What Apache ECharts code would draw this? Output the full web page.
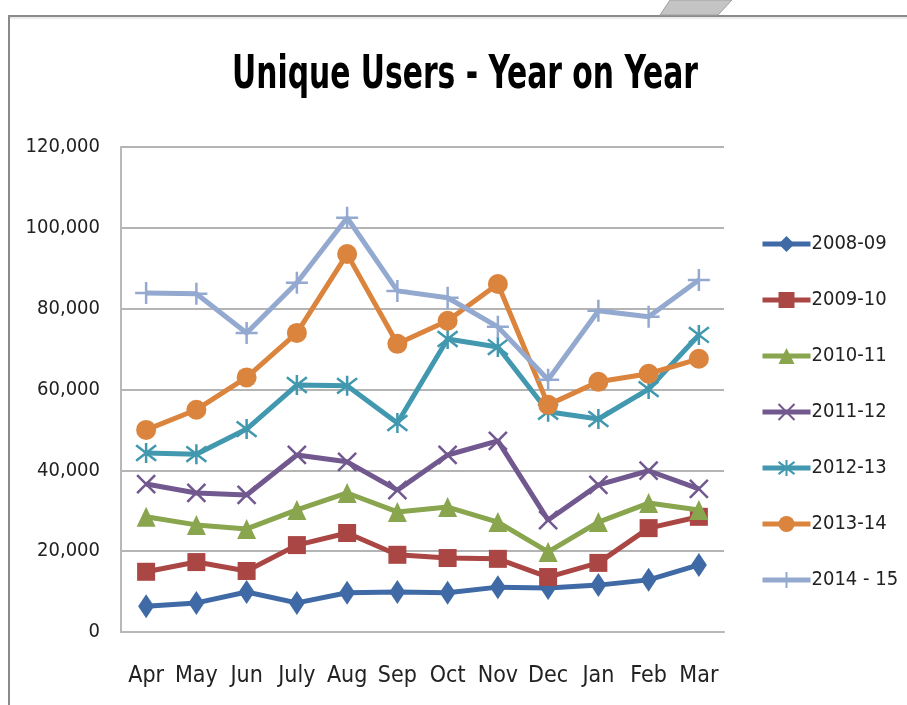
<!DOCTYPE html>
<html>
<head>
<meta charset="utf-8">
<script src="https://cdn.jsdelivr.net/npm/echarts@6/dist/echarts.min.js"></script>
<style>
html,body{margin:0;padding:0;background:#fff;}
#chart{width:907px;height:705px;}
</style>
</head>
<body>
<div id="chart"></div>
<script>
var months = ['Apr','May','Jun','July','Aug','Sep','Oct','Nov','Dec','Jan','Feb','Mar'];
var yTicks = [0, 20000, 40000, 60000, 80000, 100000, 120000];
var seriesNames = ['2008-09','2009-10','2010-11','2011-12','2012-13','2013-14','2014 - 15'];
var s2008 = [6400, 7200, 9900, 7200, 9700, 9900, 9700, 11100, 10900, 11600, 12900, 16600];
var s2009 = [14900, 17300, 15100, 21500, 24500, 19100, 18300, 18100, 13600, 17100, 25700, 28500];
var s2010 = [28500, 26500, 25500, 30200, 34400, 29700, 30900, 27200, 19800, 27200, 31900, 30200];
var s2011 = [36600, 34400, 33900, 43800, 42100, 35100, 43800, 47300, 27700, 36400, 39900, 35400];
var s2012 = [44300, 44000, 50200, 61100, 60900, 51700, 72500, 70500, 54500, 52700, 60100, 73500];
var s2013 = [50000, 55000, 63000, 74000, 93500, 71300, 77000, 86100, 56200, 61900, 63900, 67600];
var s2014 = [83900, 83700, 74000, 86400, 102500, 84400, 82700, 75500, 62400, 79500, 78000, 87100];

var allData = [s2008, s2009, s2010, s2011, s2012, s2013, s2014];
var colors = ['#3F6AA6', '#AA4643', '#89A54E', '#71588F', '#4198AF', '#DB843D', '#93A9CF'];
var symbols = [
  'diamond', 'rect', 'triangle',
  'path://M0,0L10,10M10,0L0,10',
  'path://M0,0L10,10M10,0L0,10M5,-1.5L5,11.5',
  'circle',
  'path://M5,0L5,10M0,5L10,5'
];
var symbolSizes = [[16,24], 18, [19,20], 18, 20, 20, 22];
var FONT = "'Liberation Sans Narrow', 'DejaVu Sans Condensed', 'Arial Narrow', sans-serif";

var chart = echarts.init(document.getElementById('chart'), null, {renderer: 'canvas'});

var series = seriesNames.map(function (name, i) {
  var isStroke = symbols[i].indexOf('path://') === 0;
  return {
    name: name,
    type: 'line',
    data: allData[i],
    symbol: symbols[i],
    symbolSize: symbolSizes[i],
    showAllSymbol: true,
    lineStyle: {color: colors[i], width: 5},
    itemStyle: isStroke ? {color: colors[i], borderColor: colors[i], borderWidth: 2.5} : {color: colors[i]},
    emphasis: {disabled: true},
    z: 2 + i
  };
});

var option = {
  animation: false,
  backgroundColor: '#ffffff',
  legend: {
    orient: 'vertical',
    left: 755,
    top: 229,
    itemWidth: 48,
    itemHeight: 20,
    itemGap: 36,
    data: seriesNames,
    lineStyle: {width: 5},
    textStyle: {fontFamily: FONT, fontSize: 20, color: '#222', padding: [0, 0, 0, -4]}
  },
  grid: {left: 121, right: 183, top: 147, bottom: 73, containLabel: false},
  xAxis: {
    type: 'category',
    data: months,
    boundaryGap: true,
    axisLine: {show: true, lineStyle: {color: '#b8b8b8', width: 2}},
    axisTick: {show: false},
    axisLabel: {fontFamily: FONT, fontSize: 23, color: '#222', margin: 33, interval: 0}
  },
  yAxis: {
    type: 'value',
    min: yTicks[0],
    max: yTicks[yTicks.length - 1],
    interval: yTicks[1] - yTicks[0],
    axisLine: {show: true, lineStyle: {color: '#b8b8b8', width: 2}},
    axisTick: {show: false},
    splitLine: {show: true, lineStyle: {color: '#b4b4b4', width: 2}},
    axisLabel: {
      fontFamily: FONT, fontSize: 20, color: '#222', margin: 21,
      formatter: function (v) { return v.toLocaleString('en-US'); }
    }
  },
  graphic: [
    {type: 'line', shape: {x1: 8, y1: 16, x2: 907, y2: 16}, style: {stroke: '#8a8a8a', lineWidth: 2}},
    {type: 'line', shape: {x1: 8, y1: 18, x2: 907, y2: 18}, style: {stroke: '#d8d8d8', lineWidth: 1}},
    {type: 'line', shape: {x1: 9, y1: 15, x2: 9, y2: 705}, style: {stroke: '#8a8a8a', lineWidth: 2}},
    {type: 'polygon', shape: {points: [[660, 15], [670, 0], [732, 0], [718, 15]]}, style: {fill: '#c4c4c4', stroke: '#a0a0a0', lineWidth: 1}},
    {
      type: 'text',
      x: 465, y: 76, originX: 0, originY: 0,
      scaleX: 0.72, scaleY: 1,
      style: {
        text: 'Unique Users - Year on Year',
        fontFamily: FONT, fontWeight: 'bold', fontSize: 46,
        fill: '#000', textAlign: 'center', textVerticalAlign: 'middle'
      }
    }
  ],
  series: series
};
chart.setOption(option);
</script>
</body>
</html>
